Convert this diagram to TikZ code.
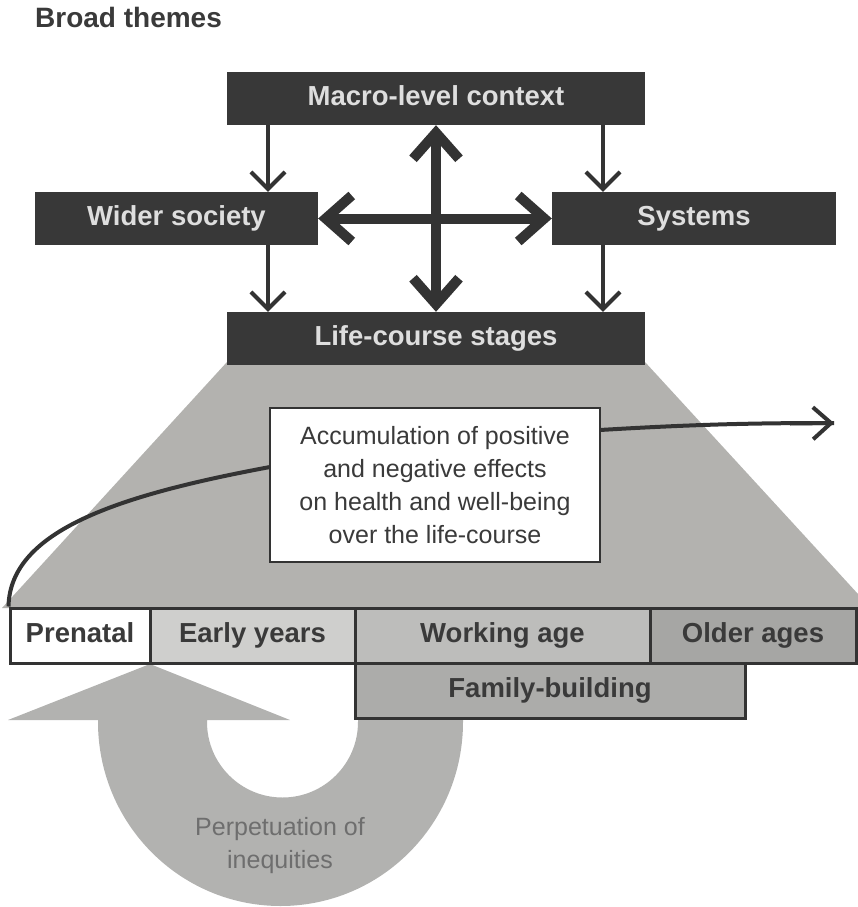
\documentclass[tikz,border=0pt]{standalone}
\usepackage{fontspec}
\setmainfont{Liberation Sans}
\usetikzlibrary{arrows.meta,calc}
\definecolor{darkbox}{HTML}{383838}
\definecolor{boxtext}{HTML}{DEDEDE}
\definecolor{trapgrey}{HTML}{B3B2AF}
\definecolor{ugrey}{HTML}{B2B2B0}
\definecolor{earlyc}{HTML}{CFCFCD}
\definecolor{workc}{HTML}{BDBDBB}
\definecolor{olderc}{HTML}{A6A6A4}
\definecolor{familyc}{HTML}{ACACAA}
\definecolor{linec}{HTML}{333333}
\definecolor{txtc}{HTML}{3A3A3A}
\definecolor{perpc}{HTML}{6E6E6E}
\tikzset{
  themebox/.style={fill=darkbox, draw=none, inner sep=0pt, minimum height=53pt,
    text height=20pt, text depth=5.5pt,
    text=boxtext, font=\bfseries\fontsize{27.5}{30}\selectfont},
  thinarrow/.style={draw=linec, line width=4pt, -{Straight Barb[length=17pt,width=34pt]}},
  bigarrow/.style={draw=linec, line width=10pt, {Straight Barb[length=26pt,width=46pt]}-{Straight Barb[length=26pt,width=46pt]}},
  stagebox/.style={draw=linec, line width=3pt, inner sep=0pt, minimum height=55pt,
    text height=20pt, text depth=5.5pt,
    text=txtc, font=\bfseries\fontsize{27.5}{30}\selectfont},
  curveline/.style={draw=linec, line width=4pt},
}
\begin{document}
\begin{tikzpicture}[x=1pt,y=-1pt]
\useasboundingbox (0,0) rectangle (858,907);
% title
\node[anchor=base west, inner sep=0pt, text=txtc, font=\bfseries\fontsize{28}{30}\selectfont] (title) at (35,28) {Broad themes};
% trapezoid
\fill[trapgrey] (227,362) -- (645,362) -- (858,594) -- (858,608) -- (2,608) -- cycle;
% U-shaped return arrow
\fill[ugrey] (8,720) -- (150,664) -- (290,720) -- (207,720) -- (207,722)
  arc[start angle=180, end angle=0, radius=75.5] -- (358,716) -- (463,716) -- (463,722)
  arc[start angle=0, end angle=180, x radius=182.5, y radius=184] -- (98,720) -- cycle;
\node[font=\fontsize{25}{33}\selectfont, text=perpc, align=center] (perp) at (280,846) {Perpetuation of\\inequities};
% theme boxes
\node[themebox, minimum width=418pt] (macro) at (436,98.5) {Macro-level context};
\node[themebox, minimum width=283pt] (wider) at (176.5,218.5) {Wider society};
\node[themebox, minimum width=284pt] (systems) at (694,218.5) {Systems};
\node[themebox, minimum width=418pt] (life) at (436,338.5) {Life-course stages};
% arrows
\draw[thinarrow] (268,0 |- macro.south) -- (268,0 |- wider.north);
\draw[thinarrow] (268,0 |- wider.south) -- (268,0 |- life.north);
\draw[thinarrow] (603,0 |- macro.south) -- (603,0 |- systems.north);
\draw[thinarrow] (603,0 |- systems.south) -- (603,0 |- life.north);
\draw[bigarrow] (macro.south) -- (life.north);
\draw[bigarrow] (wider.east) -- (systems.west);
% stage bar
\node[stagebox, fill=white, minimum width=140pt] (pre) at (80,635.5) {Prenatal};
\node[stagebox, fill=earlyc, minimum width=205pt] (early) at (252.5,635.5) {Early years};
\node[stagebox, fill=workc, minimum width=295pt] (work) at (502.5,635.5) {Working age};
\node[stagebox, fill=olderc, minimum width=206pt] (older) at (753,635.5) {Older ages};
\node[stagebox, fill=familyc, minimum width=390pt] (family) at (550,690.5) {Family-building};
% accumulation curve
\coordinate (tip) at (834,423);
\draw[curveline] (pre.north west) .. controls (10,530) and (120,495) .. (270,467)
  -- (600,430) .. controls (700,424) and (760,423) .. (tip);
\draw[draw=linec, line width=4pt, -{Straight Barb[length=18pt,width=32pt]}] (790,423.5) -- (tip);
% accumulation box
\node[draw=linec, line width=2.5pt, fill=white, minimum width=330pt, minimum height=154pt,
  inner sep=0pt, align=center, text=txtc, font=\fontsize{25}{33}\selectfont] (acc) at (435,485)
  {Accumulation of positive\\and negative effects\\on health and well-being\\over the life-course};
\end{tikzpicture}
\end{document}
